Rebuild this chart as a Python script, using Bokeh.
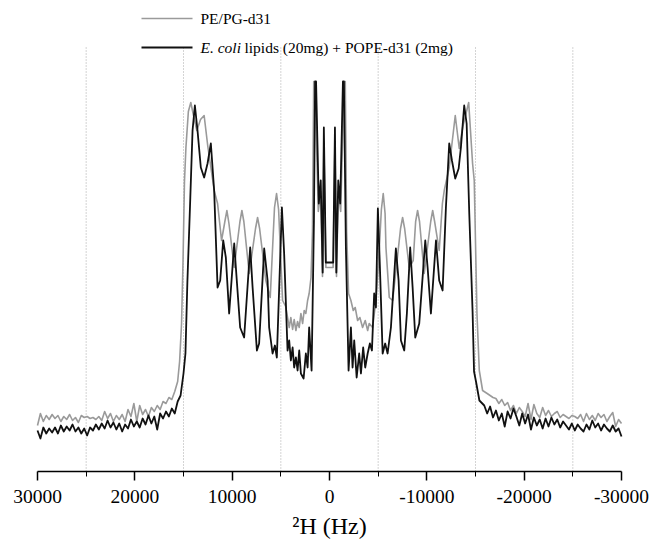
from bokeh.plotting import figure
from bokeh.models import FixedTicker, Range1d, Label, BoxAnnotation
from bokeh.embed import file_html
from bokeh.resources import INLINE

SERIF = "Liberation Serif"

# (frequency in Hz, intensity in arbitrary units)
pe_pg_spectrum = [
    (30000, 46), (29700, 58), (29400, 50), (29100, 56), (28800, 52), (28500, 57), (28200, 53),
    (27900, 56), (27600, 50), (27300, 55), (27000, 52), (26700, 57), (26400, 51), (26100, 54),
    (25800, 49), (25500, 56), (25200, 54), (24900, 55), (24600, 53), (24300, 54), (24000, 52),
    (23700, 55), (23400, 51), (23100, 60), (22800, 53), (22500, 58), (22200, 50), (21900, 56),
    (21600, 52), (21300, 57), (21000, 50), (20700, 62), (20400, 55), (20100, 68), (19800, 50),
    (19500, 66), (19200, 57), (18900, 62), (18600, 55), (18300, 64), (18000, 60), (17700, 66),
    (17400, 62), (17100, 70), (16800, 68), (16500, 74), (16200, 72), (15900, 80), (15600, 90),
    (15400, 110), (15200, 148), (15050, 210), (14900, 290), (14750, 324), (14500, 360),
    (14250, 369), (13950, 355), (13630, 341), (13250, 352), (12880, 356), (12500, 325),
    (12200, 305), (11850, 281), (11500, 268), (11090, 231), (10750, 250), (10540, 261),
    (10330, 248), (9790, 204), (9200, 250), (9000, 261), (8800, 250), (8250, 198), (7600, 243),
    (7390, 254), (7180, 243), (6540, 191), (6090, 174), (5650, 264), (5440, 278), (5230, 262),
    (4820, 171), (4500, 165), (4140, 144), (3970, 154), (3790, 142), (3630, 152), (3450, 141),
    (3280, 150), (3110, 144), (2940, 158), (2760, 148), (2600, 161), (2430, 158), (2250, 171),
    (2090, 178), (1900, 194), (1750, 240), (1620, 390), (1500, 390), (1150, 260), (900, 280),
    (720, 195), (580, 330), (370, 204), (-370, 204), (-560, 330), (-720, 195), (-900, 280),
    (-1150, 260), (-1500, 390), (-1620, 390), (-1760, 240), (-1960, 178), (-2200, 171),
    (-2440, 161), (-2640, 164), (-2890, 151), (-3120, 154), (-3400, 144), (-3670, 151),
    (-3920, 141), (-4080, 148), (-4430, 144), (-4770, 171), (-5050, 211), (-5330, 262),
    (-5520, 278), (-5710, 258), (-5800, 224), (-6140, 174), (-6490, 171), (-6750, 194),
    (-7300, 243), (-7510, 254), (-7720, 243), (-8190, 204), (-8600, 211), (-8850, 250),
    (-9050, 261), (-9250, 250), (-9730, 198), (-10400, 250), (-10600, 261), (-10800, 250),
    (-11270, 221), (-11600, 268), (-11790, 281), (-12300, 304), (-12920, 356), (-13330, 323),
    (-13700, 345), (-14300, 369), (-14700, 308), (-14870, 291), (-15150, 158), (-15390, 101),
    (-15730, 81), (-16200, 78), (-16500, 76), (-16800, 74), (-17100, 73), (-17400, 68),
    (-17700, 72), (-18000, 66), (-18300, 69), (-18600, 61), (-18900, 66), (-19200, 58),
    (-19500, 64), (-19800, 60), (-20100, 55), (-20400, 68), (-20700, 52), (-21000, 67),
    (-21300, 58), (-21600, 54), (-21900, 64), (-22200, 56), (-22500, 61), (-22800, 55),
    (-23100, 58), (-23400, 60), (-23700, 54), (-24000, 57), (-24300, 55), (-24600, 53),
    (-24900, 56), (-25200, 55), (-25500, 53), (-25800, 57), (-26100, 50), (-26400, 58),
    (-26700, 52), (-27000, 56), (-27300, 51), (-27600, 58), (-27900, 54), (-28200, 57),
    (-28500, 50), (-28800, 55), (-29100, 59), (-29400, 45), (-29700, 52), (-30000, 48),
]

ecoli_spectrum = [
    (30000, 41), (29700, 33), (29400, 44), (29100, 38), (28800, 43), (28500, 39), (28200, 44),
    (27900, 38), (27600, 46), (27300, 40), (27000, 45), (26700, 41), (26400, 47), (26100, 40),
    (25800, 44), (25500, 38), (25200, 43), (24900, 36), (24600, 44), (24300, 41), (24000, 47),
    (23700, 42), (23400, 48), (23100, 43), (22800, 51), (22500, 44), (22200, 49), (21900, 42),
    (21600, 48), (21300, 40), (21000, 47), (20700, 43), (20400, 52), (20100, 45), (19800, 50),
    (19500, 44), (19200, 53), (18900, 47), (18600, 56), (18300, 48), (18000, 55), (17700, 42),
    (17400, 58), (17100, 53), (16800, 60), (16500, 55), (16200, 63), (15900, 58), (15600, 70),
    (15300, 76), (15000, 98), (14800, 118), (14600, 190), (14300, 274), (14070, 341),
    (13830, 366), (13560, 341), (13220, 304), (12880, 294), (12530, 308), (12190, 328),
    (11850, 281), (11500, 184), (11230, 191), (10920, 231), (10650, 214), (10310, 158),
    (9790, 228), (9620, 204), (9180, 144), (8770, 134), (8150, 224), (7900, 184), (7460, 121),
    (7230, 128), (6710, 223), (6360, 191), (6200, 144), (5850, 118), (5610, 126), (5410, 114),
    (4890, 264), (4660, 218), (4310, 121), (4140, 131), (3970, 111), (3790, 124), (3630, 104),
    (3450, 114), (3280, 101), (3110, 121), (2940, 98), (2660, 93), (2430, 118), (2250, 104),
    (2090, 144), (1840, 101), (1600, 250), (1480, 390), (1380, 390), (1100, 268), (900, 291),
    (700, 199), (580, 344), (380, 209), (-380, 209), (-560, 344), (-700, 199), (-900, 291),
    (-1100, 268), (-1380, 390), (-1480, 390), (-1685, 224), (-1960, 101), (-2200, 144),
    (-2370, 104), (-2540, 131), (-2790, 94), (-3050, 118), (-3230, 98), (-3460, 124),
    (-3670, 104), (-3920, 118), (-4150, 128), (-4360, 121), (-4590, 178), (-4770, 164),
    (-4970, 263), (-5180, 204), (-5460, 118), (-5720, 128), (-5970, 118), (-6310, 144),
    (-6820, 223), (-7100, 191), (-7340, 131), (-7680, 121), (-7950, 158), (-8290, 224),
    (-8540, 184), (-8810, 134), (-9220, 148), (-9840, 231), (-10080, 204), (-10420, 158),
    (-10940, 231), (-11270, 191), (-11620, 181), (-11960, 264), (-12300, 328), (-12580, 311),
    (-12920, 293), (-13270, 303), (-13500, 324), (-13840, 366), (-14090, 348), (-14360, 258),
    (-14700, 160), (-14850, 100), (-15050, 90), (-15400, 71), (-15900, 66), (-16200, 58),
    (-16500, 65), (-16800, 54), (-17100, 61), (-17400, 51), (-17700, 58), (-18000, 45),
    (-18300, 60), (-18600, 53), (-18900, 63), (-19200, 55), (-19500, 46), (-19800, 58),
    (-20100, 48), (-20400, 57), (-20700, 42), (-21000, 54), (-21300, 46), (-21600, 52),
    (-21900, 43), (-22200, 53), (-22500, 45), (-22800, 54), (-23100, 47), (-23400, 52),
    (-23700, 44), (-24000, 50), (-24300, 46), (-24600, 42), (-24900, 48), (-25200, 41),
    (-25500, 47), (-25800, 43), (-26100, 40), (-26400, 47), (-26700, 42), (-27000, 51),
    (-27300, 44), (-27600, 48), (-27900, 41), (-28200, 47), (-28500, 43), (-28800, 40),
    (-29100, 46), (-29400, 40), (-29700, 43), (-30000, 35),
]

axis_start, axis_end = 30000, -30000
major_ticks = [30000, 20000, 10000, 0, -10000, -20000, -30000]
tick_labels = ["30000", "20000", "10000", "0", "-10000", "-20000", "-30000"]
minor_ticks = [25000, 15000, 5000, -5000, -15000, -25000]
guide_lines = [25000, 15000, 5000, -5000, -15000, -25000]
guide_top = 424  # intensity level where the dotted guides end

legend_pe = "PE/PG-d31"
legend_ecoli_italic = "E. coli"
legend_ecoli_rest = "lipids (20mg) + POPE-d31 (2mg)"
x_title = "\u00b2H (Hz)"

GRAY = "#9a9a9a"
BLACK = "#111111"

pe_hz = [h for h, _ in pe_pg_spectrum]
pe_int = [v for _, v in pe_pg_spectrum]
ec_hz = [h for h, _ in ecoli_spectrum]
ec_int = [v for _, v in ecoli_spectrum]

# layout: the frame covers the whole canvas; the axis span sits between pixels 37 and 621
W, H = 650, 541
ax_left_px, ax_right_px = 37, 621
hz_per_px = (axis_start - axis_end) / (ax_right_px - ax_left_px)
x_lo = axis_start + ax_left_px * hz_per_px
x_hi = axis_end - (W - ax_right_px) * hz_per_px
axis_px, top_px = 471, 5

p = figure(width=W, height=H, output_backend="svg", toolbar_location=None,
           x_range=Range1d(x_lo, x_hi), y_range=Range1d(-(H - axis_px), axis_px - top_px),
           y_axis_location=None,
           min_border_left=0, min_border_right=0, min_border_top=top_px, min_border_bottom=0)
p.outline_line_color = None
p.background_fill_color = "white"
p.border_fill_color = "white"
p.ygrid.visible = False
p.xgrid.visible = False

# dotted vertical guides
p.segment(x0=guide_lines, y0=[0] * len(guide_lines), x1=guide_lines,
          y1=[guide_top] * len(guide_lines),
          line_color="#a8a8a8", line_dash="1 2", line_width=1)

ax = p.xaxis[0]
ax.fixed_location = 0
ax.bounds = (axis_end, axis_start)
ax.ticker = FixedTicker(ticks=major_ticks, minor_ticks=minor_ticks)
ax.major_label_overrides = {t: l for t, l in zip(major_ticks, tick_labels)}
ax.axis_line_color = "black"
ax.axis_line_width = 1.5
ax.major_tick_line_color = "black"
ax.major_tick_line_width = 1.5
ax.major_tick_out = 9
ax.major_tick_in = 0
ax.minor_tick_line_color = "black"
ax.minor_tick_line_width = 1
ax.minor_tick_out = 5
ax.minor_tick_in = 0
ax.major_label_text_font = SERIF
ax.major_label_text_font_size = "19.5px"
ax.major_label_text_color = "black"
ax.major_label_standoff = 9
ax.axis_label = x_title
ax.axis_label_text_font = SERIF
ax.axis_label_text_font_size = "24px"
ax.axis_label_text_font_style = "normal"
ax.axis_label_text_color = "black"
ax.axis_label_standoff = 7

p.line(pe_hz, pe_int, line_color=GRAY, line_width=1.6, line_join="round")
p.line(ec_hz, ec_int, line_color=BLACK, line_width=1.8, line_join="round")

# legend (screen units relative to frame bottom-left; frame = whole canvas)
row1, row2 = H - 18, H - 47
p.add_layout(BoxAnnotation(left=141, right=192, bottom=row1 - 0.8, top=row1 + 0.8,
                           left_units="screen", right_units="screen",
                           bottom_units="screen", top_units="screen",
                           fill_color=GRAY, fill_alpha=1, line_color=None))
p.add_layout(BoxAnnotation(left=141, right=192, bottom=row2 - 1, top=row2 + 1,
                           left_units="screen", right_units="screen",
                           bottom_units="screen", top_units="screen",
                           fill_color=BLACK, fill_alpha=1, line_color=None))
p.add_layout(Label(x=200, y=row1, x_units="screen", y_units="screen", text=legend_pe,
                   text_font=SERIF, text_font_size="15.5px", text_baseline="middle",
                   text_align="left", text_color="black"))
p.add_layout(Label(x=200, y=row2, x_units="screen", y_units="screen", text=legend_ecoli_italic,
                   text_font=SERIF, text_font_size="15.5px", text_font_style="italic",
                   text_baseline="middle", text_align="left", text_color="black"))
p.add_layout(Label(x=244, y=row2, x_units="screen", y_units="screen", text=legend_ecoli_rest,
                   text_font=SERIF, text_font_size="15.5px", text_baseline="middle",
                   text_align="left", text_color="black"))

open("out.html", "w").write(file_html(p, INLINE))
